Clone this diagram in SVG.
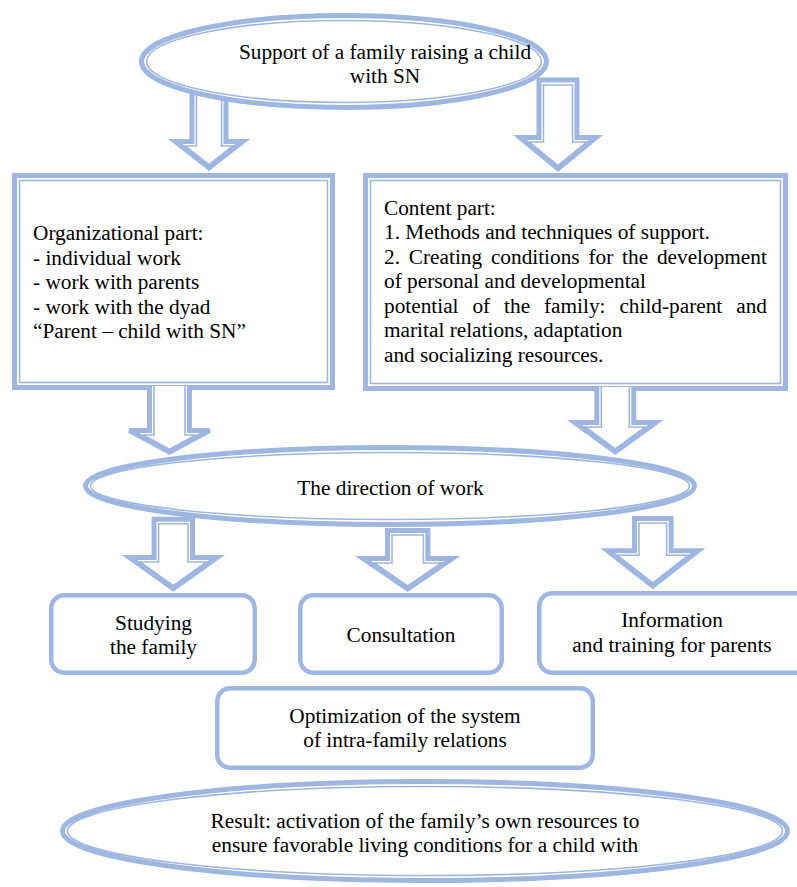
<svg xmlns="http://www.w3.org/2000/svg" width="797" height="887" viewBox="0 0 797 887">
<style>
.thick{fill:#fff;stroke:#9eb6e0;stroke-width:5;stroke-linejoin:miter}
.thin{fill:none;stroke:#9eb6e0;stroke-width:1.6;stroke-linejoin:miter}
.rbox{fill:#fff;stroke:#9eb6e0;stroke-width:4.5}
text{font-family:"Liberation Serif","Times New Roman",serif;font-size:21.3px;fill:#000}
.c{text-anchor:middle}
</style>
<rect width="797" height="887" fill="#fff"/>
<g id="org-part">
<rect class="thick" x="14.5" y="175.5" width="318" height="212"/>
<rect class="thin" x="19.5" y="180.5" width="308" height="202"/>
<text x="33" y="240">Organizational part:</text>
<text x="33" y="264.5">- individual work</text>
<text x="33" y="289">- work with parents</text>
<text x="33" y="313.5">- work with the dyad</text>
<text x="33" y="338">“Parent – child with SN”</text>
</g>
<g id="content-part">
<rect class="thick" x="365.5" y="175.5" width="420" height="213"/>
<rect class="thin" x="370.5" y="180.5" width="410" height="203"/>
<text x="384" y="214.5">Content part:</text>
<text x="384" y="239">1. Methods and techniques of support.</text>
<text y="263.5"><tspan x="384">2.</tspan><tspan x="408.8">Creating</tspan><tspan x="490.9">conditions</tspan><tspan x="588.5">for</tspan><tspan x="622.1">the</tspan><tspan x="656.9">development</tspan></text>
<text x="384" y="288">of personal and developmental</text>
<text y="312.5"><tspan x="384">potential</tspan><tspan x="472.4">of</tspan><tspan x="504.1">the</tspan><tspan x="544">family:</tspan><tspan x="619.4">child-parent</tspan><tspan x="736.2">and</tspan></text>
<text x="384" y="337">marital relations, adaptation</text>
<text x="384" y="361.5">and socializing resources.</text>
</g>
<g id="connectors">
<path class="thick" d="M192,80 V141.5 H175.27 L209,167.83 L242.73,141.5 H226 V80 Z"/>
<path class="thin" d="M196.5,85 V146 H185.09 L209,164.66 L232.91,146 H221.5 V85 Z"/>
<path class="thick" d="M539,80 V137.5 H519.98 L558,168.76 L596.02,137.5 H577 V80 Z"/>
<path class="thin" d="M543.5,85 V142 H529.39 L558,165.53 L586.61,142 H572.5 V85 Z"/>
<path class="thick" d="M149.5,386 V430.5 H129.39 L169.5,452.16 L209.61,430.5 H189.5 V386"/>
<path class="thin" d="M154,386 V435 H142.99 L169.5,449.32 L196.01,435 H185 V386"/>
<path class="thick" d="M596.8,387 V422.5 H574.71 L615.3,451.91 L655.89,422.5 H633.8 V387"/>
<path class="thin" d="M601.3,387 V427 H585.18 L615.3,448.82 L645.42,427 H629.3 V387"/>
<path class="thick" d="M154.1,519.2 V557.5 H129.44 L173.3,588.63 L217.16,557.5 H192.5 V519.2 Z"/>
<path class="thin" d="M158.6,523.7 V562 H140.1 L173.3,585.57 L206.5,562 H188 V523.7 Z"/>
<path class="thick" d="M387.5,530.5 V558.5 H363.09 L407.7,588.97 L452.31,558.5 H427.9 V530.5 Z"/>
<path class="thin" d="M392,535 V563 H374.11 L407.7,585.94 L441.29,563 H423.4 V535 Z"/>
<path class="thick" d="M634.5,518.5 V550.8 H607.56 L652.8,586.13 L698.04,550.8 H671.1 V518.5 Z"/>
<path class="thin" d="M639,523 V555.3 H617.39 L652.8,582.95 L688.21,555.3 H666.6 V523 Z"/>
</g>
<g id="support">
<ellipse class="thick" cx="344" cy="61.5" rx="202.5" ry="46"/>
<ellipse class="thin" cx="344" cy="61.5" rx="197.5" ry="41"/>
<text class="c" x="385" y="59">Support of a family raising a child</text>
<text class="c" x="385" y="83">with SN</text>
</g>
<g id="direction">
<ellipse class="thick" cx="390" cy="486" rx="304.5" ry="38.5"/>
<ellipse class="thin" cx="390" cy="486" rx="299.5" ry="33.5"/>
<text class="c" x="390.5" y="495">The direction of work</text>
</g>
<g id="studying">
<rect class="rbox" x="51.25" y="595.25" width="203.5" height="77.5" rx="13"/>
<text class="c" x="153.5" y="630">Studying</text>
<text class="c" x="153.5" y="654">the family</text>
</g>
<g id="consultation">
<rect class="rbox" x="300.25" y="595.25" width="201.5" height="77.5" rx="13"/>
<text class="c" x="401" y="642">Consultation</text>
</g>
<g id="information">
<rect class="rbox" x="539.25" y="593.25" width="270" height="79.5" rx="13"/>
<text class="c" x="672" y="627">Information</text>
<text class="c" x="672" y="652">and training for parents</text>
</g>
<g id="optimization">
<rect class="rbox" x="217.25" y="688.25" width="375.5" height="79.5" rx="13"/>
<text class="c" x="405" y="723">Optimization of the system</text>
<text class="c" x="405" y="747">of intra-family relations</text>
</g>
<g id="result">
<ellipse class="thick" cx="425" cy="831" rx="362.5" ry="49.5"/>
<ellipse class="thin" cx="425" cy="831" rx="357.5" ry="44.5"/>
<text class="c" x="425" y="828">Result: activation of the family’s own resources to</text>
<text class="c" x="425" y="852">ensure favorable living conditions for a child with</text>
</g>
</svg>
